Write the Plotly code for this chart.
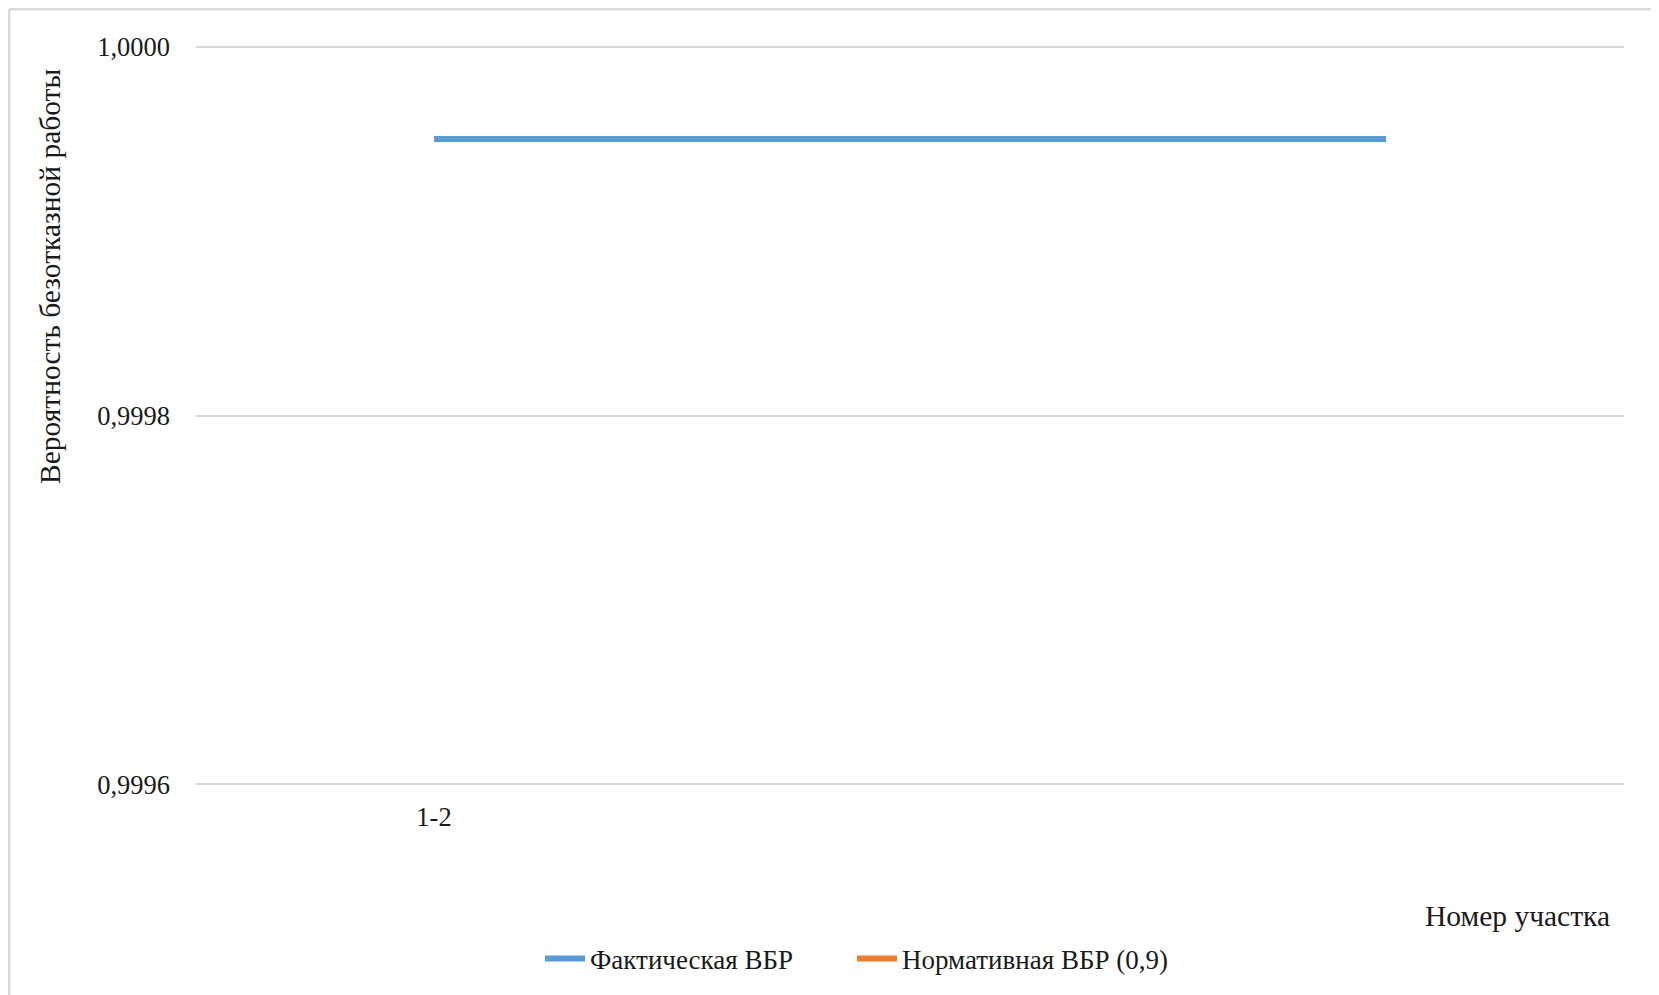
import plotly.graph_objects as go

# Data
categories = ["1-2", "", ""]
actual_vbr = [0.99995, 0.99995, 0.99995]
normative_vbr = [0.9, 0.9, 0.9]
y_tickvals = [0.9996, 0.9998, 1.0]
y_ticktext = ["0,9996", "0,9998", "1,0000"]
series_names = ["Фактическая ВБР", "Нормативная ВБР (0,9)"]

W, H = 1659, 995
EPS = 0.000002  # small padding so the edge gridlines are drawn
L, R, T, B = 188, 43, 35, 215
pw, ph = W - L - R, H - T - B

def px_x(x):
    return (x - L) / pw

def px_y(y):
    return (H - B - y) / ph

FONT = "Liberation Serif, Times New Roman, serif"
TXT = "#1a1a1a"

xs = list(range(len(categories)))
fig = go.Figure()
fig.add_trace(go.Scatter(x=xs, y=actual_vbr, mode="lines", name=series_names[0],
                         line=dict(color="#5b9bd5", width=6), legend="legend"))
fig.add_trace(go.Scatter(x=xs, y=normative_vbr, mode="lines", name=series_names[1],
                         line=dict(color="#ed7d31", width=6), legend="legend2"))

legend_common = dict(orientation="h", xanchor="left", yanchor="middle",
                     font=dict(family=FONT, size=27, color=TXT), itemwidth=40,
                     bgcolor="rgba(0,0,0,0)")

fig.update_layout(
    width=W, height=H,
    margin=dict(l=L, r=R, t=T, b=B),
    paper_bgcolor="white", plot_bgcolor="white",
    font=dict(family=FONT, color=TXT, size=26),
    separators=", ",
    showlegend=True,
    legend=dict(x=px_x(532), y=px_y(951), **legend_common),
    legend2=dict(x=px_x(844), y=px_y(951), **legend_common),
    xaxis=dict(range=[-0.5, len(categories) - 0.5],
               tickvals=[i for i, c in enumerate(categories) if c],
               ticktext=[c for c in categories if c],
               showgrid=False, zeroline=False, showline=False,
               ticks="", ticklabelstandoff=10,
               tickfont=dict(family=FONT, size=26.5, color=TXT)),
    yaxis=dict(range=[0.9996 - EPS, 1.0 + EPS], tickvals=y_tickvals, ticktext=y_ticktext,
               showgrid=True, gridcolor="#d9d9d9", gridwidth=2,
               zeroline=False, showline=False, ticks="", ticklabelstandoff=25,
               tickfont=dict(family=FONT, size=26.5, color=TXT)),
)

fig.add_annotation(text="Вероятность безотказной работы", textangle=-90,
                   xref="paper", yref="paper", x=px_x(42), y=px_y(269),
                   xanchor="center", yanchor="middle", showarrow=False,
                   font=dict(family=FONT, size=29.5, color=TXT))
fig.add_annotation(text="Номер участка",
                   xref="paper", yref="paper", x=px_x(1604), y=px_y(908),
                   xanchor="right", yanchor="middle", showarrow=False,
                   font=dict(family=FONT, size=29.5, color=TXT))

# chart frame (left and top edges visible)
fig.add_shape(type="line", xref="paper", yref="paper", x0=px_x(1), x1=px_x(1),
              y0=px_y(1000), y1=px_y(1), line=dict(color="#d9d9d9", width=3))
fig.add_shape(type="line", xref="paper", yref="paper", x0=px_x(1), x1=px_x(1700),
              y0=px_y(1), y1=px_y(1), line=dict(color="#d9d9d9", width=3))

fig.write_html("out.html")
